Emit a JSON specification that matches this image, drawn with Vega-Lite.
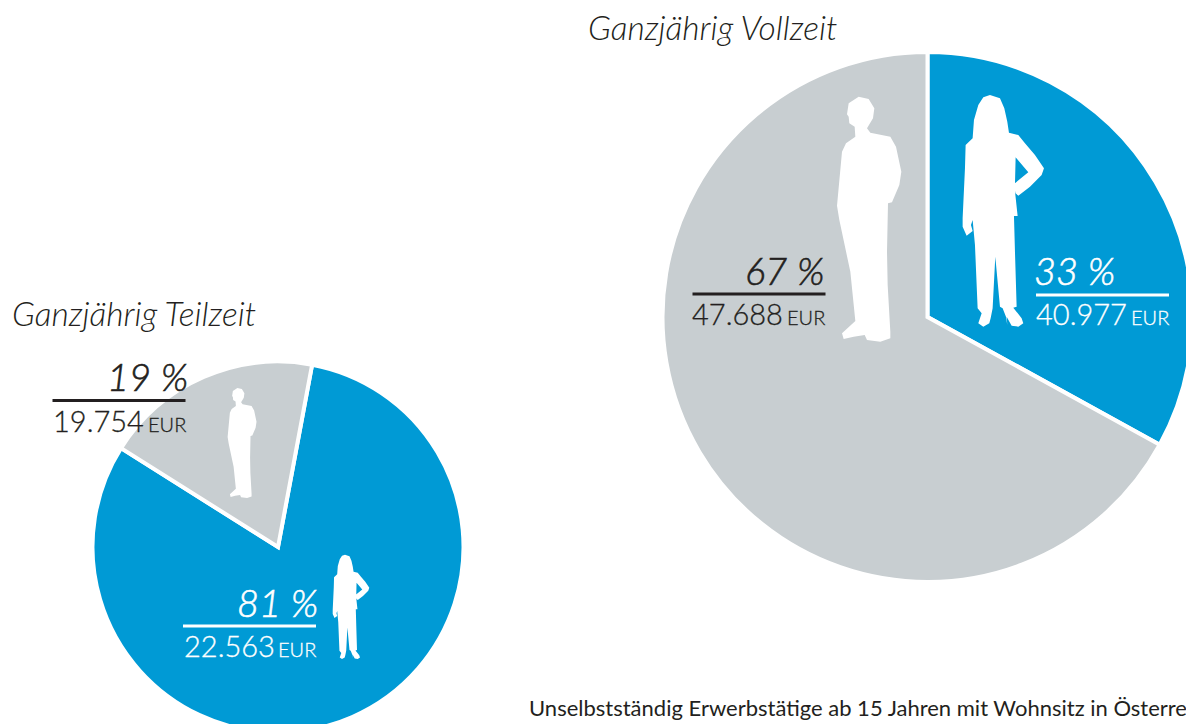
{"$schema":"https://vega.github.io/schema/vega-lite/v6.json","width":1186,"height":724,"padding":0,"autosize":{"type":"none"},"background":"white",
"title":{"text":"Unselbstständig Erwerbstätige ab 15 Jahren mit Wohnsitz in Österreich","orient":"bottom","anchor":"start","frame":"group","dx":529,"offset":-25,"baseline":"alphabetic","font":"Lato","fontSize":22,"fontWeight":400,"color":"#231f20"},
"config":{"view":{"stroke":null},"axis":{"disable":true}},
"data":{"values":[
{"gruppe":"Ganzjährig Vollzeit","geschlecht":"Frauen","anteil":33,"anteilText":"33 %","eur":"40.977","einheit":"EUR"},
{"gruppe":"Ganzjährig Vollzeit","geschlecht":"Männer","anteil":67,"anteilText":"67 %","eur":"47.688","einheit":"EUR"},
{"gruppe":"Ganzjährig Teilzeit","geschlecht":"Frauen","anteil":81,"anteilText":"81 %","eur":"22.563","einheit":"EUR"},
{"gruppe":"Ganzjährig Teilzeit","geschlecht":"Männer","anteil":19,"anteilText":"19 %","eur":"19.754","einheit":"EUR"}]},
"resolve":{"scale":{"x":"independent","y":"independent","theta":"independent"}},
"layer":[
{"transform":[{"filter":"datum.gruppe==='Ganzjährig Vollzeit'"}],
"mark":{"type":"arc","radius":265,"stroke":"white","strokeWidth":4},
"encoding":{"x":{"field":"gruppe","type":"nominal","axis":null,"scale":{"type":"point","padding":0,"domain":["Ganzjährig Teilzeit","Ganzjährig Vollzeit"],"range":[278,927.5]}},
"y":{"field":"gruppe","type":"nominal","axis":null,"scale":{"type":"point","padding":0,"domain":["Ganzjährig Teilzeit","Ganzjährig Vollzeit"],"range":[547,317]}},
"theta":{"field":"anteil","type":"quantitative","stack":true,"scale":{"domain":[0,100],"range":[0,6.2832]}},
"order":{"field":"geschlecht","sort":"ascending"},
"color":{"field":"geschlecht","type":"nominal","legend":null,"scale":{"domain":["Frauen","Männer"],"range":["#009ad5","#c8ced1"]}}}},
{"transform":[{"filter":"datum.gruppe==='Ganzjährig Teilzeit'"}],
"mark":{"type":"arc","radius":185.5,"stroke":"white","strokeWidth":4},
"encoding":{"x":{"field":"gruppe","type":"nominal","axis":null,"scale":{"type":"point","padding":0,"domain":["Ganzjährig Teilzeit","Ganzjährig Vollzeit"],"range":[278,927.5]}},
"y":{"field":"gruppe","type":"nominal","axis":null,"scale":{"type":"point","padding":0,"domain":["Ganzjährig Teilzeit","Ganzjährig Vollzeit"],"range":[547,317]}},
"theta":{"field":"anteil","type":"quantitative","stack":true,"scale":{"domain":[0,100],"range":[0.185,6.4682]}},
"order":{"field":"geschlecht","sort":"ascending"},
"color":{"field":"geschlecht","type":"nominal","legend":null,"scale":{"domain":["Frauen","Männer"],"range":["#009ad5","#c8ced1"]}}}},
{"transform":[{"filter":"datum.geschlecht==='Frauen'"}],
"mark":{"type":"point","filled":true,"fill":"white","stroke":null,"opacity":1,"shape":"M-40 -348 L-10 -338 3 -308 12 -268 17 -235 45 -228 65 -203 95 -168 122 -128 115 -108 80 -73 45 -46 37 -53 32 -81 75 -116 37 -161 35 -80 36 -50 43 15 32 15 35 122 40 287 30 290 55 322 60 337 45 347 25 344 10 317 12 342 8 317 -2 292 -10 287 -24 137 -32 292 -38 322 -42 337 -60 347 -75 337 -65 307 -77 292 -85 102 -92 27 -97 42 -92 60 -110 74 -122 47 -122 22 -115 -128 -113 -198 -92 -218 -88 -273 -75 -318 -60 -341 Z"},
"encoding":{"x":{"field":"anteil","type":"quantitative","axis":null,"scale":{"domain":[19,33,67,81],"range":[242,1003.3,869,351],"zero":false,"nice":false}},
"y":{"field":"anteil","type":"quantitative","axis":null,"scale":{"domain":[19,33,67,81],"range":[443,211,219,607],"zero":false,"nice":false}},
"size":{"field":"anteil","type":"quantitative","legend":null,"scale":{"domain":[19,33,67,81],"range":[0.0896,0.4444,0.4444,0.09],"zero":false,"nice":false}}}},
{"transform":[{"filter":"datum.geschlecht==='Männer'"}],
"mark":{"type":"point","filled":true,"fill":"white","stroke":null,"opacity":1,"shape":"M-31 -367 L-1 -360 16 -332 12 -302 -6 -272 4 -259 64 -247 81 -217 97 -142 91 -102 69 -50 57 -47 54 98 56 198 64 338 64 358 34 368 -6 363 -13 348 -46 353 -76 360 -81 343 -41 306 -56 158 -71 88 -89 3 -96 -40 -81 -202 -69 -227 -41 -247 -43 -277 -59 -287 -61 -307 -66 -314 -61 -347 Z"},
"encoding":{"x":{"field":"anteil","type":"quantitative","axis":null,"scale":{"domain":[19,33,67,81],"range":[242,1003.3,869,351],"zero":false,"nice":false}},
"y":{"field":"anteil","type":"quantitative","axis":null,"scale":{"domain":[19,33,67,81],"range":[443,211,219,607],"zero":false,"nice":false}},
"size":{"field":"anteil","type":"quantitative","legend":null,"scale":{"domain":[19,33,67,81],"range":[0.0896,0.4444,0.4444,0.09],"zero":false,"nice":false}}}},
{"mark":{"type":"text","align":"left","baseline":"alphabetic","font":"Lato","fontSize":38,"fontStyle":"italic","fontWeight":300,"strokeWidth":0.6},
"encoding":{"text":{"field":"anteilText"},
"x":{"field":"anteil","type":"quantitative","axis":null,"scale":{"domain":[19,33,67,81],"range":[107,1034,745,237],"zero":false,"nice":false}},
"y":{"field":"anteil","type":"quantitative","axis":null,"scale":{"domain":[19,33,67,81],"range":[391,285,285,617],"zero":false,"nice":false}},
"fill":{"field":"geschlecht","type":"nominal","legend":null,"scale":{"domain":["Frauen","Männer"],"range":["#ffffff","#231f20"]}},
"stroke":{"field":"geschlecht","type":"nominal","legend":null,"scale":{"domain":["Frauen","Männer"],"range":["#ffffff","#231f20"]}}}},
{"mark":{"type":"point","filled":true,"stroke":null,"opacity":1,"size":17689,"shape":"M-1 -0.0226 H1 V0.0226 H-1 Z"},
"encoding":{
"x":{"field":"anteil","type":"quantitative","axis":null,"scale":{"domain":[19,33,67,81],"range":[119,1102.5,759,249.5],"zero":false,"nice":false}},
"y":{"field":"anteil","type":"quantitative","axis":null,"scale":{"domain":[19,33,67,81],"range":[400.5,295,294,626],"zero":false,"nice":false}},
"fill":{"field":"geschlecht","type":"nominal","legend":null,"scale":{"domain":["Frauen","Männer"],"range":["#ffffff","#231f20"]}}}},
{"mark":{"type":"text","align":"left","baseline":"alphabetic","font":"Lato","fontSize":29,"fontWeight":300,"strokeWidth":0.3},
"encoding":{"text":{"field":"eur"},
"x":{"field":"anteil","type":"quantitative","axis":null,"scale":{"domain":[19,33,67,81],"range":[53,1036,692,184],"zero":false,"nice":false}},
"y":{"field":"anteil","type":"quantitative","axis":null,"scale":{"domain":[19,33,67,81],"range":[432,325,325,657],"zero":false,"nice":false}},
"fill":{"field":"geschlecht","type":"nominal","legend":null,"scale":{"domain":["Frauen","Männer"],"range":["#ffffff","#231f20"]}},
"stroke":{"field":"geschlecht","type":"nominal","legend":null,"scale":{"domain":["Frauen","Männer"],"range":["#ffffff","#231f20"]}}}},
{"mark":{"type":"text","align":"left","baseline":"alphabetic","font":"Lato","fontSize":20,"fontWeight":300,"strokeWidth":0.3},
"encoding":{"text":{"field":"einheit"},
"x":{"field":"anteil","type":"quantitative","axis":null,"scale":{"domain":[19,33,67,81],"range":[148,1131,787,278],"zero":false,"nice":false}},
"y":{"field":"anteil","type":"quantitative","axis":null,"scale":{"domain":[19,33,67,81],"range":[432,325,325,657],"zero":false,"nice":false}},
"fill":{"field":"geschlecht","type":"nominal","legend":null,"scale":{"domain":["Frauen","Männer"],"range":["#ffffff","#231f20"]}},
"stroke":{"field":"geschlecht","type":"nominal","legend":null,"scale":{"domain":["Frauen","Männer"],"range":["#ffffff","#231f20"]}}}},
{"transform":[{"filter":"datum.geschlecht==='Frauen'"}],
"mark":{"type":"text","align":"left","baseline":"alphabetic","font":"Lato","fontSize":33.5,"fontStyle":"italic","fontWeight":300,"fill":"#231f20"},
"encoding":{"text":{"field":"gruppe"},
"x":{"field":"gruppe","type":"nominal","axis":null,"scale":{"type":"point","padding":0,"domain":["Ganzjährig Teilzeit","Ganzjährig Vollzeit"],"range":[12,588]}},
"y":{"field":"gruppe","type":"nominal","axis":null,"scale":{"type":"point","padding":0,"domain":["Ganzjährig Teilzeit","Ganzjährig Vollzeit"],"range":[326,40]}}}}
]}
